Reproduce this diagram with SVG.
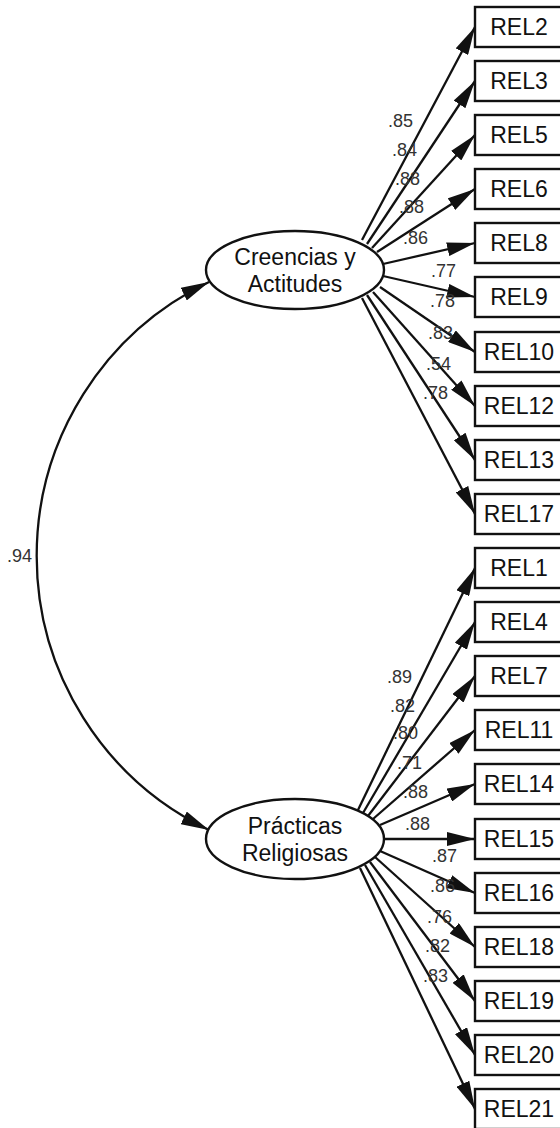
<svg xmlns="http://www.w3.org/2000/svg" width="560" height="1128" viewBox="0 0 560 1128">
<style>
.bg{fill:#fff}
.box{fill:#fff;stroke:#111;stroke-width:2.4}
.lat{fill:#fff;stroke:#111;stroke-width:2.4}
.t{font-family:"Liberation Sans",Arial,sans-serif;font-size:23px;fill:#111;text-anchor:middle}
.lab{font-family:"Liberation Sans",Arial,sans-serif;font-size:18px;fill:#333}
.c line,.c path{stroke:#111;stroke-width:2.3;fill:none}
.c line{marker-end:url(#arr)}
</style>
<defs>
<marker id="arr" markerUnits="userSpaceOnUse" markerWidth="28" markerHeight="14" viewBox="0 0 28 14" refX="28" refY="7" orient="auto-start-reverse">
<path d="M0,0 L28,7 L0,14 z" fill="#111"/>
</marker>
</defs>
<rect class="bg" x="0" y="0" width="560" height="1128"/>
<g id="connectors" class="c">
<path d="M209,282 A304,304 0 0 0 209,830" marker-start="url(#arr)" marker-end="url(#arr)"/>
<line x1="362" y1="240" x2="475" y2="27"/>
<line x1="367" y1="244" x2="475" y2="81"/>
<line x1="372" y1="248" x2="475" y2="135"/>
<line x1="377" y1="252" x2="475" y2="189"/>
<line x1="383" y1="264" x2="475" y2="243"/>
<line x1="383" y1="276" x2="475" y2="297"/>
<line x1="380" y1="287" x2="475" y2="352"/>
<line x1="373" y1="292" x2="475" y2="406"/>
<line x1="367" y1="295" x2="475" y2="460"/>
<line x1="362" y1="298" x2="475" y2="514"/>
<line x1="358" y1="810" x2="475" y2="568"/>
<line x1="363" y1="813" x2="475" y2="622"/>
<line x1="368" y1="816" x2="475" y2="676"/>
<line x1="373" y1="819" x2="475" y2="730"/>
<line x1="380" y1="825" x2="475" y2="784"/>
<line x1="383" y1="839" x2="475" y2="839"/>
<line x1="380" y1="851" x2="475" y2="893"/>
<line x1="375" y1="857" x2="475" y2="947"/>
<line x1="370" y1="862" x2="475" y2="1001"/>
<line x1="365" y1="865" x2="475" y2="1055"/>
<line x1="360" y1="868" x2="475" y2="1109"/>
</g>
<g id="labels">
<text class="lab" x="7" y="562">.94</text>
<text class="lab" x="388" y="127">.85</text>
<text class="lab" x="392" y="156">.84</text>
<text class="lab" x="395" y="185">.88</text>
<text class="lab" x="399" y="213">.88</text>
<text class="lab" x="403" y="244">.86</text>
<text class="lab" x="431" y="277">.77</text>
<text class="lab" x="430" y="307">.78</text>
<text class="lab" x="428" y="339">.83</text>
<text class="lab" x="426" y="370">.54</text>
<text class="lab" x="423" y="399">.78</text>
<text class="lab" x="387" y="683">.89</text>
<text class="lab" x="390" y="712">.82</text>
<text class="lab" x="393" y="739">.80</text>
<text class="lab" x="397" y="769">.71</text>
<text class="lab" x="403" y="798">.88</text>
<text class="lab" x="405" y="830">.88</text>
<text class="lab" x="432" y="862">.87</text>
<text class="lab" x="430" y="892">.86</text>
<text class="lab" x="427" y="923">.76</text>
<text class="lab" x="425" y="952">.82</text>
<text class="lab" x="423" y="982">.83</text>
</g>
<g id="creencias"><ellipse class="lat" cx="295" cy="270" rx="89" ry="39"/><text class="t" x="295" y="265">Creencias y</text><text class="t" x="295" y="292">Actitudes</text></g>
<g id="practicas"><ellipse class="lat" cx="295" cy="839" rx="89" ry="40"/><text class="t" x="295" y="834">Prácticas</text><text class="t" x="295" y="861">Religiosas</text></g>
<g id="REL2"><rect class="box" x="475" y="7" width="90" height="40"/><text class="t" x="519" y="35">REL2</text></g>
<g id="REL3"><rect class="box" x="475" y="61" width="90" height="40"/><text class="t" x="519" y="89">REL3</text></g>
<g id="REL5"><rect class="box" x="475" y="115" width="90" height="40"/><text class="t" x="519" y="143">REL5</text></g>
<g id="REL6"><rect class="box" x="475" y="169" width="90" height="40"/><text class="t" x="519" y="197">REL6</text></g>
<g id="REL8"><rect class="box" x="475" y="223" width="90" height="40"/><text class="t" x="519" y="251">REL8</text></g>
<g id="REL9"><rect class="box" x="475" y="277" width="90" height="40"/><text class="t" x="519" y="305">REL9</text></g>
<g id="REL10"><rect class="box" x="475" y="332" width="90" height="40"/><text class="t" x="519" y="360">REL10</text></g>
<g id="REL12"><rect class="box" x="475" y="386" width="90" height="40"/><text class="t" x="519" y="414">REL12</text></g>
<g id="REL13"><rect class="box" x="475" y="440" width="90" height="40"/><text class="t" x="519" y="468">REL13</text></g>
<g id="REL17"><rect class="box" x="475" y="494" width="90" height="40"/><text class="t" x="519" y="522">REL17</text></g>
<g id="REL1"><rect class="box" x="475" y="548" width="90" height="40"/><text class="t" x="519" y="576">REL1</text></g>
<g id="REL4"><rect class="box" x="475" y="602" width="90" height="40"/><text class="t" x="519" y="630">REL4</text></g>
<g id="REL7"><rect class="box" x="475" y="656" width="90" height="40"/><text class="t" x="519" y="684">REL7</text></g>
<g id="REL11"><rect class="box" x="475" y="710" width="90" height="40"/><text class="t" x="519" y="738">REL11</text></g>
<g id="REL14"><rect class="box" x="475" y="764" width="90" height="40"/><text class="t" x="519" y="792">REL14</text></g>
<g id="REL15"><rect class="box" x="475" y="819" width="90" height="40"/><text class="t" x="519" y="847">REL15</text></g>
<g id="REL16"><rect class="box" x="475" y="873" width="90" height="40"/><text class="t" x="519" y="901">REL16</text></g>
<g id="REL18"><rect class="box" x="475" y="927" width="90" height="40"/><text class="t" x="519" y="955">REL18</text></g>
<g id="REL19"><rect class="box" x="475" y="981" width="90" height="40"/><text class="t" x="519" y="1009">REL19</text></g>
<g id="REL20"><rect class="box" x="475" y="1035" width="90" height="40"/><text class="t" x="519" y="1063">REL20</text></g>
<g id="REL21"><rect class="box" x="475" y="1089" width="90" height="40"/><text class="t" x="519" y="1117">REL21</text></g>
</svg>
